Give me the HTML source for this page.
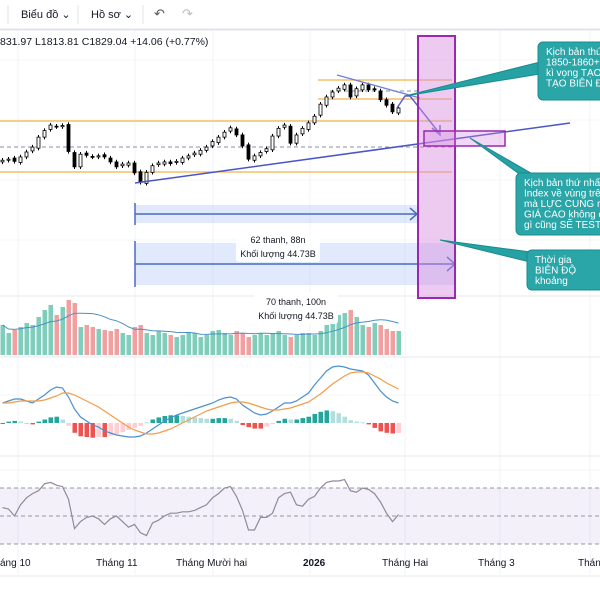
<!DOCTYPE html>
<html><head><meta charset="utf-8"><style>
body{margin:0;width:600px;height:600px;overflow:hidden;background:#fff;font-family:"Liberation Sans","Noto Sans CJK SC",sans-serif}
svg{position:absolute;left:0;top:0}
</style></head><body>
<svg id="c" width="600" height="600" xmlns="http://www.w3.org/2000/svg"></svg>
<script>
const closes=[1734,1736,1732,1740,1749,1758,1776,1788,1798,1795,1797,1750,1722,1745,1743,1740,1742,1740,1731,1722,1727,1729,1711,1694,1712,1724,1729,1731,1728,1732,1738,1742,1747,1752,1758,1768,1776,1785,1793,1780,1760,1736,1742,1748,1755,1778,1792,1798,1765,1780,1792,1802,1814,1836,1849,1858,1865,1871,1849,1864,1871,1862,1862,1844,1834,1822,1829];
const volumes=[30,22,25,28,32,30,38,45,50,40,48,55,52,28,30,28,26,25,24,26,22,20,28,30,22,20,24,22,20,18,20,22,22,18,20,24,25,22,20,24,22,18,20,22,20,22,24,20,18,20,22,22,20,24,30,38,40,42,45,38,30,28,32,30,26,24,24];
const macd=[20,22,24,24,22,20,24,28,33,36,35,26,14,6,2,-2,-4,-8,-10,-12,-13,-14,-14,-13,-10,-6,-2,2,5,8,10,12,14,16,18,20,23,25,26,24,18,14,10,8,9,12,16,20,20,22,26,30,38,45,52,56,57,56,54,53,52,48,40,32,26,22,20];
const signal=[20,20,21,22,22,22,22,23,25,27,30,30,28,25,22,19,16,12,8,4,0,-4,-7,-9,-11,-11,-10,-8,-6,-3,0,3,6,9,12,14,16,18,20,21,21,20,18,16,14,13,13,14,15,17,19,21,25,29,34,39,43,47,50,51,51,50,47,44,40,37,34];
const rsi=[56,55,50,58,63,66,68,73,74,72,71,62,41,46,49,50,48,44,48,50,46,42,44,38,36,45,47,50,52,52,53,53,54,56,58,63,66,70,71,64,54,40,40,49,49,52,63,66,67,58,57,62,64,70,74,75,75,76,68,67,70,69,66,60,52,46,51];
const monthLabels=["áng 10","Tháng 11","Tháng Mười hai","2026","Tháng Hai","Tháng 3","Tháng"];
const monthX=[0,96,176,303,382,478,578];

const S=document.getElementById('c');const NS='http://www.w3.org/2000/svg';
function mk(t,a,txt){const e=document.createElementNS(NS,t);for(const k in a)e.setAttribute(k,a[k]);if(txt!==undefined)e.textContent=txt;S.appendChild(e);return e;}
const xb=i=>1+i*6;
const yp=p=>108-(p-1829)*0.55;
const yv=v=>355-v;
const ym=v=>423-v;
const yr=r=>516-(r-50)*1.4;

[18,135,213,310,405,500,590].forEach(x=>{const l=mk('line',{x1:x,y1:30,x2:x,y2:575,stroke:'#f0f3fa'});});
[60,120,180,240,395,470].forEach(y=>{const l=mk('line',{x1:0,y1:y,x2:600,y2:y,stroke:'#f3f4f8'});});
let tb=mk('rect',{x:0,y:0,width:600,height:29,fill:'#fff'});
mk('line',{x1:0,y1:29.5,x2:600,y2:29.5,stroke:'#e0e3eb',"stroke-width":2});
mk('line',{x1:8,y1:5,x2:8,y2:24,stroke:'#e0e3eb'});
let b1=mk('text',{x:21,y:18,"font-size":11,fill:'#131722'},'Biểu đồ ⌄');
mk('line',{x1:78,y1:5,x2:78,y2:24,stroke:'#e0e3eb'});
let b2=mk('text',{x:91,y:18,"font-size":11,fill:'#131722'},'Hồ sơ ⌄');
mk('line',{x1:143,y1:5,x2:143,y2:24,stroke:'#e0e3eb'});
let u=mk('text',{x:154,y:18,"font-size":13,fill:'#555'},'↶');
let r=mk('text',{x:182,y:18,"font-size":13,fill:'#bbb'},'↷');
let oh=mk('text',{x:0,y:45,"font-size":10.5,fill:'#131722'},'831.97 L1813.81 C1829.04 +14.06 (+0.77%)');

[296,357,456,576].forEach(y=>mk('line',{x1:0,y1:y,x2:600,y2:y,stroke:'#e8e8ee'}));

let rb1=mk('rect',{x:135,y:205,width:283,height:18,fill:'rgba(170,195,245,0.35)'});
mk('line',{x1:135,y1:203,x2:135,y2:225,stroke:'#4a6bc4',"stroke-width":1.5});
mk('line',{x1:135,y1:214,x2:416,y2:214,stroke:'#4a6bc4',"stroke-width":1.5});
mk('polyline',{points:'410,208 417,214 410,220',fill:'none',stroke:'#4a6bc4',"stroke-width":1.5});
let rb2=mk('rect',{x:135,y:243,width:320,height:42,fill:'rgba(170,195,245,0.35)'});
mk('line',{x1:135,y1:241,x2:135,y2:287,stroke:'#4a6bc4',"stroke-width":1.5});
mk('line',{x1:135,y1:264,x2:454,y2:264,stroke:'#4a6bc4',"stroke-width":1.5});
mk('polyline',{points:'447,257 455,264 447,271',fill:'none',stroke:'#4a6bc4',"stroke-width":1.5});

[[0,172],[0,121],[318,99],[318,80]].forEach(([x,y])=>{const l=mk('line',{x1:x,y1:y,x2:452,y2:y,stroke:'#f0b44a',"stroke-width":1.3});});
mk('line',{x1:0,y1:147,x2:455,y2:147,stroke:'#8a8fa8',"stroke-dasharray":'4,3'});
mk('line',{x1:330,y1:91,x2:420,y2:91,stroke:'#8a8fa8',"stroke-dasharray":'4,3'});

closes.forEach((c,i)=>{const o=i?closes[i-1]+(i%3-1)*2:c-3;const hi=Math.max(o,c)+4,lo=Math.min(o,c)-4;const x=xb(i);
const w=mk('line',{x1:x+1.5,y1:yp(hi),x2:x+1.5,y2:yp(lo),stroke:'#000'});
const up=c>=o;const b=mk('rect',{x:x,y:yp(Math.max(o,c)),width:3,height:Math.max(1,Math.abs(yp(o)-yp(c))),fill:up?'#fff':'#000',stroke:'#000',"stroke-width":0.8});
});

mk('line',{x1:135,y1:183,x2:570,y2:123,stroke:'#4a55c8',"stroke-width":1.5});
mk('line',{x1:337,y1:75,x2:420,y2:98,stroke:'#6f7fd8',"stroke-width":1.3});
mk('polyline',{points:'397,108 405,96 410,96 440,134',fill:'none',stroke:'#5b5fd0',"stroke-width":1.5});
mk('polyline',{points:'432,128 440,135 440,125',fill:'none',stroke:'#5b5fd0',"stroke-width":1.5});

let pz=mk('rect',{x:418,y:36,width:37,height:262,fill:'rgba(215,140,225,0.45)',stroke:'#9c27b0',"stroke-width":2});
let sz=mk('rect',{x:424,y:131,width:81,height:15,fill:'rgba(215,140,225,0.35)',stroke:'#9c27b0',"stroke-width":1.5});

function co(name,x,y,w,h,p,lines){
 const pp=mk('polygon',{points:p,fill:'#26a1a4',stroke:'#1a8c8f'});
 const b=mk('rect',{x:x,y:y,width:w,height:h,rx:5,fill:'#2aa5a8',stroke:'#1a8c8f'});
 lines.forEach((t,i)=>mk('text',{x:x+8,y:y+13+i*10.5,"font-size":10,fill:'#fff'},t));
}
co('callout-scenario-2',538,42,70,58,'405,96 540,62 540,74',['Kịch bản thứ','1850-1860+','kì vọng TẠO','TẠO BIÊN ĐỘ']);
co('callout-scenario-1',516,173,90,62,'470,138 522,176 536,176',['Kịch bản thứ nhấ','Index về vùng trê','mà LỰC CUNG ra','GIÁ CAO không có','gì cũng SẼ TEST S']);
co('callout-time',527,250,80,40,'440,240 530,252 530,262',['Thời gia','BIÊN ĐỘ','khoảng']);

function lbl(name,x,y,l1,l2){const b=mk('rect',{x:x,y:y,width:84,height:32,rx:3,fill:'rgba(255,255,255,0.92)'});
mk('text',{x:x+42,y:y+13,"font-size":9,fill:'#131722',"text-anchor":'middle'},l1);mk('text',{x:x+42,y:y+27,"font-size":9,fill:'#131722',"text-anchor":'middle'},l2);}
lbl('range-label-1',236,230,'62 thanh, 88n','Khối lượng 44.73B');

closes.forEach((c,i)=>{const o=i?closes[i-1]:c-1;const v=volumes[i];const b=mk('rect',{x:xb(i)-0.5,y:yv(v),width:4.5,height:v,fill:c>=o?'#7fcdbb':'#f0a0a0'});});
let ma=[];volumes.forEach((v,i)=>{const s=volumes.slice(Math.max(0,i-9),i+1);ma.push(s.reduce((a,b)=>a+b,0)/s.length);});
mk('polyline',{points:ma.map((v,i)=>`${xb(i)+1.5},${yv(v)}`).join(' '),fill:'none',stroke:'#4a90c8',"stroke-width":1});
lbl('range-label-2',254,292,'70 thanh, 100n','Khối lượng 44.73B');

macd.forEach((m,i)=>{const h=(m-signal[i])*0.7;const prev=i?(macd[i-1]-signal[i-1]):0;const grow=Math.abs(m-signal[i])>=Math.abs(prev);
const col=h>=0?(grow?'#26a69a':'#b2dfdb'):(grow?'#ef5350':'#ffcdd2');
const b=mk('rect',{x:xb(i)-0.5,y:h>=0?ym(h):ym(0),width:4.5,height:Math.max(1,Math.abs(h)),fill:col});});
mk('polyline',{points:macd.map((v,i)=>`${xb(i)+1.5},${ym(v)}`).join(' '),fill:'none',stroke:'#4a90d0',"stroke-width":1.2});
mk('polyline',{points:signal.map((v,i)=>`${xb(i)+1.5},${ym(v)}`).join(' '),fill:'none',stroke:'#f39c4a',"stroke-width":1.2});

let band=mk('rect',{x:0,y:yr(70),width:600,height:yr(30)-yr(70),fill:'rgba(126,87,194,0.09)'});
[70,50,30].forEach(v=>mk('line',{x1:0,y1:yr(v),x2:600,y2:yr(v),stroke:'#9598a1',"stroke-dasharray":'4,3'}));
mk('polyline',{points:rsi.map((v,i)=>`${xb(i)+1.5},${yr(v)}`).join(' '),fill:'none',stroke:'#8f8a9c',"stroke-width":1.2});

monthLabels.forEach((t,i)=>{const e=mk('text',{x:monthX[i],y:566,"font-size":10,fill:'#131722',"font-weight":t==='2026'?'bold':'normal'},t);});
</script>
</body></html>
